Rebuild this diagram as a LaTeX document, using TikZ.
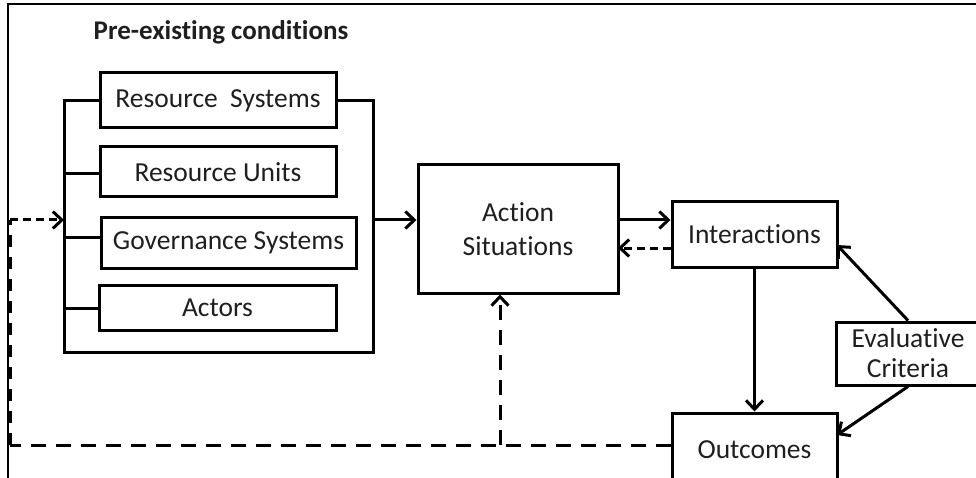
\documentclass[tikz,border=0pt]{standalone}
\usepackage{fontspec}
\setmainfont{Carlito}[RawFeature={-liga}]
\usetikzlibrary{arrows.meta,calc}
\begin{document}
\begin{tikzpicture}[x=1pt,y=-1pt,
  box/.style={draw=black,line width=3pt,inner sep=0pt,font=\fontsize{27.5}{33}\selectfont,text=black!88,align=center},
  conn/.style={line width=3pt},
  tip/.style={-{Straight Barb[length=9pt,width=17pt]}},
  longdash/.style={line width=3pt,dash pattern=on 15pt off 10pt},
  shortdash/.style={line width=3pt,dash pattern=on 8pt off 5pt}]
\useasboundingbox (0,0) rectangle (976,478);
\fill[white] (0,0) rectangle (976,478);
% frame
\draw[line width=1.3pt] (976,4) -- (8,4) -- (8,478);
% title
\node[font=\fontsize{27}{32}\selectfont\bfseries,text=black!88] (title) at (221,32) {Pre-existing conditions};
% left group
\node[box,minimum width=236pt,minimum height=55pt] (rs) at (218,100.5) {Resource\ \ Systems};
\node[box,minimum width=236pt,minimum height=50pt] (ru) at (218,172) {Resource Units};
\node[box,minimum width=255pt,minimum height=50pt] (gs) at (228.5,243) {Governance Systems};
\node[box,minimum width=237pt,minimum height=45pt] (ac) at (217.5,307.5) {Actors};
\coordinate (bl) at (64,220);
\coordinate (br) at (373,220);
\draw[conn] (rs.west) -- (64,100.5) -- (64,352) -- (373,352) -- (373,100.5) -- (rs.east);
\draw[conn] (64,174) -- (ru.west |- 0,174);
\draw[conn] (64,238) -- (gs.west |- 0,238);
\draw[conn] (64,308) -- (ac.west |- 0,308);
% main boxes
\node[box,minimum width=200pt,minimum height=128pt,font=\fontsize{27.5}{34}\selectfont] (as) at (518,229) {Action\\Situations};
\node[box,minimum width=165pt,minimum height=65pt] (in) at (754.5,234.5) {Interactions};
\node[box,minimum width=165pt,minimum height=74pt] (out) at (754.5,450) {Outcomes};
\node[box,minimum width=144pt,minimum height=63pt,font=\fontsize{27.5}{30}\selectfont] (ec) at (908,353.5) {Evaluative\\Criteria};
% connectors
\draw[conn,tip] (br) -- (br -| as.west);
\coordinate (asr1) at (618,220);
\coordinate (asr2) at (618,248);
\draw[conn,tip] (asr1) -- (asr1 -| in.west);
\draw[shortdash,tip] (asr2 -| in.west) -- (asr2);
\draw[conn,tip] (in.south) -- (out.north);
\coordinate (inr) at (837,245);
\coordinate (outr) at (837,435);
\draw[conn,tip] (ec.north) -- (inr);
\draw[conn,tip] (ec.south) -- (outr);
% feedback
\coordinate (fb) at (500,445);
\coordinate (fl) at (10,445);
\coordinate (ft) at (10,220);
\draw[longdash] (fb -| out.west) -- (fl);
\draw[line width=3pt,dash pattern=on 12pt off 10pt] (fl) -- (ft);
\draw[shortdash,tip] (ft) -- (bl);
\draw[longdash,tip] (fb) -- (fb |- as.south);
\end{tikzpicture}
\end{document}
